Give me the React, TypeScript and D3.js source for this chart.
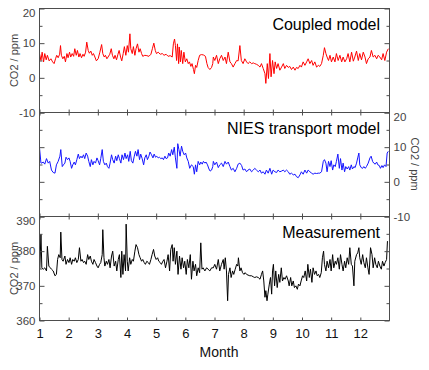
import React, { useRef, useEffect } from 'react';
import * as d3 from 'd3';

// [month, CO2] pairs
const coupledModel: [number, number][] = [
  [1.00, 7.0], [1.05, 5.0], [1.09, 7.4], [1.14, 4.6], [1.18, 7.0], [1.23, 5.2], [1.27, 6.5], [1.33, 4.9], [1.39, 5.5], [1.45, 4.6],
  [1.50, 4.1], [1.55, 5.5], [1.59, 6.5], [1.64, 5.8], [1.69, 6.8], [1.72, 9.3], [1.75, 6.5], [1.80, 5.5], [1.85, 6.2], [1.89, 4.6],
  [1.94, 7.0], [1.98, 5.8], [2.03, 7.4], [2.07, 6.0], [2.12, 7.0], [2.17, 6.2], [2.21, 8.4], [2.26, 6.5], [2.30, 7.9], [2.35, 6.0],
  [2.39, 7.0], [2.44, 5.8], [2.49, 6.8], [2.53, 6.2], [2.58, 7.4], [2.62, 10.3], [2.67, 7.9], [2.71, 7.1], [2.76, 7.7], [2.81, 6.5],
  [2.85, 7.0], [2.90, 6.0], [2.95, 4.9], [3.01, 5.5], [3.07, 7.4], [3.13, 9.6], [3.17, 7.0], [3.22, 6.0], [3.26, 6.5], [3.31, 5.5],
  [3.35, 6.0], [3.41, 6.8], [3.46, 8.4], [3.50, 6.5], [3.55, 5.5], [3.59, 6.5], [3.64, 5.2], [3.69, 6.8], [3.73, 7.9], [3.78, 6.0],
  [3.82, 4.9], [3.87, 7.0], [3.91, 9.0], [3.96, 6.5], [4.01, 9.3], [4.05, 7.4], [4.10, 12.7], [4.13, 8.4], [4.18, 7.0], [4.22, 9.0],
  [4.27, 6.5], [4.31, 8.4], [4.36, 9.8], [4.41, 7.4], [4.45, 8.4], [4.50, 7.0], [4.54, 6.2], [4.61, 6.5], [4.68, 6.4], [4.75, 6.2],
  [4.82, 6.8], [4.87, 8.4], [4.92, 10.0], [4.97, 7.9], [5.01, 7.0], [5.07, 7.4], [5.14, 6.8], [5.21, 7.0], [5.27, 6.5], [5.34, 6.8],
  [5.41, 6.2], [5.48, 6.4], [5.55, 6.0], [5.59, 9.8], [5.63, 11.2], [5.66, 9.3], [5.70, 5.0], [5.73, 9.8], [5.77, 4.1], [5.79, 8.9],
  [5.83, 4.6], [5.86, 7.9], [5.91, 4.1], [5.95, 7.4], [6.00, 4.6], [6.05, 5.5], [6.10, 4.1], [6.14, 4.6], [6.19, 3.3], [6.23, 4.1],
  [6.28, 2.4], [6.31, 1.2], [6.35, 3.6], [6.39, 3.0], [6.44, 5.0], [6.49, 6.5], [6.55, 6.7], [6.62, 6.6], [6.69, 6.2], [6.74, 4.1],
  [6.78, 3.0], [6.84, 2.4], [6.90, 3.0], [6.94, 4.1],
  [6.96, 6.0], [7.01, 5.0], [7.07, 6.5], [7.13, 4.1], [7.18, 5.5], [7.24, 6.5], [7.30, 5.0], [7.36, 6.0], [7.41, 4.1], [7.47, 7.4],
  [7.53, 4.6], [7.58, 4.1], [7.64, 3.1], [7.70, 4.1], [7.76, 5.0], [7.81, 4.9], [7.87, 9.3], [7.92, 5.0], [7.98, 4.1], [8.04, 5.5],
  [8.10, 4.6], [8.15, 4.1], [8.21, 4.6], [8.27, 4.1], [8.33, 4.3], [8.38, 4.1], [8.44, 3.9], [8.50, 3.6], [8.56, 3.1], [8.61, 4.1],
  [8.67, 2.7], [8.73, 1.2], [8.76, -1.6], [8.81, 4.1], [8.85, -0.2], [8.90, 7.0], [8.94, 0.3], [8.99, 5.0], [9.04, 1.2], [9.08, 4.6],
  [9.13, 2.7], [9.18, 4.1], [9.24, 2.2], [9.30, 3.1], [9.36, 4.1], [9.41, 2.7], [9.47, 3.6], [9.53, 3.0], [9.58, 3.3], [9.64, 2.4],
  [9.70, 3.1], [9.76, 2.2], [9.81, 3.0], [9.87, 2.7], [9.93, 3.6], [9.98, 3.1], [10.04, 4.6], [10.10, 3.6], [10.16, 4.6], [10.21, 5.5],
  [10.27, 4.1], [10.33, 5.0], [10.38, 3.6], [10.44, 4.6], [10.50, 3.1], [10.56, 3.6], [10.61, 3.3], [10.67, 4.1], [10.73, 6.5], [10.77, 8.7],
  [10.82, 7.0], [10.86, 6.0], [10.91, 5.0], [10.96, 6.5], [11.01, 4.6], [11.07, 6.0], [11.13, 4.6], [11.18, 7.0], [11.24, 5.0], [11.30, 6.5],
  [11.36, 4.6], [11.41, 6.0], [11.47, 4.6], [11.53, 5.5], [11.58, 7.0], [11.64, 4.6], [11.70, 7.4], [11.76, 4.8], [11.81, 6.0], [11.87, 7.7],
  [11.93, 5.0], [11.98, 7.0], [12.04, 5.2], [12.10, 7.4], [12.16, 6.0], [12.21, 4.1], [12.27, 5.5], [12.33, 6.0], [12.38, 7.9], [12.44, 6.0],
  [12.50, 6.5], [12.56, 5.5], [12.61, 6.5], [12.67, 6.0], [12.73, 5.2], [12.78, 7.0], [12.84, 5.0], [12.90, 7.4], [12.96, 8.4],
];

const niesModel: [number, number][] = [
  [1.00, 9.8], [1.05, 5.4], [1.07, 5.4], [1.13, 5.7], [1.18, 5.1], [1.24, 6.7], [1.30, 5.4], [1.35, 5.9], [1.41, 3.4], [1.47, 2.7],
  [1.53, 2.5], [1.58, 4.9], [1.64, 5.9], [1.70, 7.4], [1.73, 9.3], [1.78, 4.4], [1.82, 4.9], [1.87, 5.4], [1.91, 7.1], [1.96, 6.4],
  [2.01, 6.9], [2.05, 5.9], [2.10, 3.9], [2.14, 4.9], [2.19, 5.7], [2.23, 4.9], [2.28, 6.4], [2.33, 8.0], [2.37, 6.7], [2.42, 7.4],
  [2.46, 6.9], [2.51, 7.8], [2.55, 6.7], [2.60, 8.3], [2.65, 7.4], [2.69, 5.9], [2.74, 4.4], [2.78, 6.4], [2.83, 4.9], [2.87, 5.9],
  [2.92, 5.4], [2.97, 6.9], [3.01, 6.1], [3.06, 4.9], [3.10, 6.7], [3.15, 9.3], [3.19, 5.9], [3.24, 4.9], [3.29, 5.4], [3.33, 4.4],
  [3.38, 3.9], [3.42, 5.4], [3.47, 7.8], [3.51, 6.4], [3.56, 5.4], [3.61, 7.4], [3.65, 6.1], [3.70, 7.8], [3.74, 6.7], [3.79, 5.4],
  [3.83, 7.8], [3.88, 6.4], [3.93, 8.3], [3.97, 6.7], [4.02, 7.8], [4.06, 5.9], [4.11, 8.8], [4.15, 6.1], [4.20, 5.4], [4.25, 7.4],
  [4.29, 8.8], [4.34, 7.4], [4.38, 9.3], [4.43, 6.4], [4.47, 8.0], [4.52, 6.7], [4.57, 4.9], [4.61, 6.9], [4.66, 7.8], [4.70, 6.4],
  [4.75, 7.4], [4.79, 8.6], [4.84, 7.8], [4.89, 6.9], [4.93, 8.0], [4.98, 7.1], [5.02, 7.4], [5.07, 6.9], [5.11, 7.1], [5.16, 6.7],
  [5.21, 6.9], [5.25, 6.4], [5.30, 7.4], [5.34, 6.7], [5.39, 6.9], [5.43, 8.3], [5.48, 7.4], [5.53, 9.3], [5.57, 7.8], [5.62, 10.0],
  [5.66, 6.9], [5.71, 3.9], [5.74, 11.0], [5.78, 9.3], [5.82, 7.4], [5.87, 10.3], [5.91, 8.8], [5.96, 7.8], [6.01, 8.3], [6.05, 6.9],
  [6.10, 5.9], [6.15, 3.9], [6.21, 4.9], [6.27, 4.4], [6.31, 2.2], [6.35, 4.9], [6.39, 2.9], [6.44, 5.9], [6.49, 4.9], [6.53, 5.7],
  [6.58, 5.1], [6.62, 5.9], [6.67, 5.4], [6.71, 5.7], [6.76, 4.9], [6.81, 3.7], [6.85, 3.1], [6.90, 3.4], [6.94, 4.4],
  [6.96, 5.9], [7.01, 4.9], [7.07, 5.7], [7.13, 4.1], [7.18, 4.9], [7.24, 5.4], [7.30, 4.4], [7.36, 5.9], [7.41, 5.1], [7.47, 5.7],
  [7.53, 4.4], [7.58, 3.4], [7.64, 3.9], [7.70, 2.9], [7.76, 3.9], [7.81, 5.1], [7.87, 5.4], [7.93, 4.7], [7.98, 3.4], [8.04, 3.7],
  [8.10, 2.9], [8.15, 3.4], [8.21, 3.7], [8.27, 2.9], [8.33, 3.4], [8.38, 3.9], [8.44, 3.4], [8.50, 2.9], [8.56, 3.4], [8.61, 2.5],
  [8.67, 2.9], [8.73, 2.2], [8.78, 3.4], [8.84, 2.5], [8.90, 3.9], [8.96, 2.2], [9.01, 3.4], [9.07, 2.9], [9.13, 2.7], [9.18, 3.4],
  [9.24, 2.9], [9.30, 3.1], [9.36, 3.4], [9.41, 2.9], [9.47, 3.4], [9.53, 2.9], [9.58, 2.2], [9.64, 2.5], [9.70, 2.0], [9.76, 2.2],
  [9.81, 1.5], [9.87, 1.2], [9.93, 2.0], [9.98, 2.9], [10.04, 2.2], [10.10, 3.4], [10.16, 2.5], [10.21, 3.4], [10.27, 2.9], [10.33, 2.5],
  [10.38, 2.2], [10.44, 2.5], [10.50, 2.4], [10.56, 2.5], [10.61, 2.5], [10.67, 2.9], [10.73, 5.9], [10.77, 6.4], [10.82, 5.4], [10.86, 2.9],
  [10.91, 5.9], [10.96, 4.4], [11.00, 6.1], [11.05, 3.4], [11.09, 4.9], [11.14, 4.4], [11.18, 5.9], [11.23, 8.0], [11.28, 3.9], [11.32, 6.7],
  [11.37, 3.4], [11.41, 5.4], [11.46, 2.9], [11.50, 4.4], [11.55, 3.7], [11.60, 4.4], [11.64, 3.4], [11.69, 4.9], [11.73, 3.7], [11.78, 4.4],
  [11.82, 4.1], [11.87, 5.4], [11.91, 6.9], [11.95, 8.3], [11.98, 4.9], [12.03, 4.1], [12.08, 3.9], [12.12, 4.4], [12.17, 3.9], [12.21, 4.4],
  [12.27, 5.4], [12.33, 6.9], [12.37, 7.4], [12.42, 5.9], [12.46, 5.4], [12.51, 5.1], [12.56, 5.7], [12.60, 4.9], [12.65, 4.7], [12.69, 3.9],
  [12.74, 4.7], [12.78, 4.1], [12.83, 4.9], [12.88, 4.4], [12.92, 8.3], [12.96, 8.8],
];

const measurement: [number, number][] = [
  [1.01, 374.8], [1.05, 384.8], [1.08, 375.2], [1.13, 374.8], [1.18, 375.2], [1.24, 374.3], [1.27, 381.4], [1.32, 375.7], [1.37, 375.2], [1.41, 374.8],
  [1.47, 374.3], [1.53, 372.9], [1.58, 373.3], [1.62, 377.6], [1.66, 379.0], [1.71, 378.1], [1.73, 385.5], [1.77, 377.6], [1.81, 377.1], [1.87, 378.6],
  [1.91, 376.2], [1.96, 377.6], [2.01, 376.7], [2.05, 378.1], [2.10, 376.2], [2.14, 377.6], [2.19, 377.1], [2.23, 378.1], [2.28, 376.7], [2.33, 377.6],
  [2.37, 381.0], [2.42, 377.1], [2.46, 377.6], [2.51, 376.7], [2.55, 377.1], [2.60, 376.2], [2.65, 379.0], [2.69, 377.6], [2.74, 378.6], [2.78, 377.1],
  [2.83, 376.2], [2.87, 377.6], [2.92, 376.7], [2.97, 375.7], [3.01, 375.2], [3.06, 376.2], [3.10, 376.7], [3.15, 379.0], [3.17, 386.2], [3.21, 378.1],
  [3.24, 375.7], [3.29, 377.1], [3.33, 376.2], [3.38, 377.6], [3.42, 375.2], [3.47, 378.6], [3.51, 380.0], [3.56, 375.7], [3.61, 377.1], [3.65, 374.3],
  [3.70, 377.6], [3.74, 379.0], [3.79, 372.4], [3.82, 380.0], [3.86, 373.3], [3.90, 379.0], [3.95, 374.3], [3.97, 387.8], [4.01, 377.1], [4.04, 374.3],
  [4.09, 378.1], [4.13, 376.2], [4.18, 377.6], [4.22, 377.1], [4.27, 380.0], [4.31, 381.9], [4.36, 381.0], [4.41, 379.0], [4.45, 378.1], [4.50, 377.1],
  [4.54, 377.6], [4.59, 376.7], [4.63, 376.2], [4.68, 377.1], [4.73, 376.7], [4.77, 376.2], [4.82, 377.6], [4.86, 379.0], [4.91, 380.5], [4.95, 378.6],
  [5.00, 377.6], [5.05, 378.1], [5.09, 377.1], [5.14, 376.7], [5.18, 376.2], [5.23, 377.1], [5.27, 377.6], [5.32, 375.2], [5.37, 377.1], [5.41, 379.0],
  [5.46, 374.3], [5.50, 380.5], [5.55, 381.9], [5.58, 377.1], [5.62, 381.0], [5.66, 376.2], [5.71, 380.0], [5.75, 373.3], [5.80, 378.6], [5.85, 374.8],
  [5.89, 378.1], [5.94, 375.2], [5.98, 377.1], [6.03, 373.3], [6.07, 377.6], [6.12, 375.2], [6.17, 379.0], [6.21, 371.9], [6.26, 377.1], [6.30, 374.3],
  [6.35, 376.2], [6.39, 372.9], [6.44, 375.2], [6.49, 373.8], [6.53, 382.4], [6.57, 374.8], [6.61, 375.2], [6.67, 374.3], [6.73, 375.2], [6.78, 374.8],
  [6.84, 374.3], [6.90, 375.2],
  [6.96, 375.2], [7.01, 376.2], [7.07, 374.8], [7.13, 377.6], [7.18, 374.3], [7.24, 376.2], [7.30, 377.6], [7.33, 374.8], [7.37, 378.1], [7.41, 374.3],
  [7.45, 365.7], [7.48, 373.3], [7.53, 375.2], [7.57, 372.4], [7.62, 374.3], [7.66, 373.3], [7.71, 374.8], [7.76, 376.2], [7.80, 375.7], [7.82, 378.1],
  [7.87, 374.3], [7.91, 375.2], [7.96, 373.8], [8.01, 373.3], [8.05, 373.8], [8.10, 373.3], [8.15, 373.1], [8.21, 372.9], [8.27, 372.9], [8.33, 372.6],
  [8.38, 372.4], [8.44, 372.6], [8.50, 372.4], [8.56, 371.9], [8.61, 373.3], [8.65, 374.3], [8.69, 371.4], [8.73, 366.7], [8.76, 368.6], [8.80, 365.7],
  [8.83, 367.6], [8.88, 370.5], [8.92, 372.4], [8.96, 367.6], [8.99, 374.3], [9.02, 376.2], [9.06, 370.0], [9.10, 374.3], [9.15, 369.5], [9.20, 373.3],
  [9.24, 371.0], [9.29, 375.2], [9.33, 371.4], [9.38, 372.4], [9.42, 371.9], [9.47, 372.9], [9.53, 371.4], [9.56, 370.0], [9.61, 372.4], [9.65, 370.0],
  [9.70, 371.4], [9.74, 369.5], [9.79, 370.0], [9.84, 369.0], [9.88, 370.5], [9.93, 370.0], [9.97, 371.4], [10.02, 372.9], [10.06, 372.4], [10.11, 374.3],
  [10.16, 371.4], [10.20, 376.2], [10.25, 372.4], [10.29, 374.8], [10.34, 371.0], [10.38, 375.2], [10.43, 373.3], [10.48, 374.3], [10.52, 372.9], [10.57, 373.3],
  [10.61, 372.4], [10.66, 373.8], [10.70, 378.1], [10.74, 380.0], [10.77, 376.2], [10.82, 374.3], [10.86, 377.1], [10.91, 375.2], [10.96, 377.6], [11.00, 374.3],
  [11.05, 379.0], [11.09, 375.2], [11.14, 377.1], [11.18, 376.2], [11.23, 378.1], [11.28, 374.8], [11.32, 379.0], [11.37, 376.2], [11.41, 374.3], [11.46, 377.1],
  [11.50, 375.2], [11.55, 378.1], [11.60, 376.2], [11.64, 381.0], [11.69, 376.2], [11.73, 375.7], [11.78, 370.0], [11.81, 377.1], [11.87, 379.0], [11.91, 379.5],
  [11.95, 381.0], [11.98, 378.1], [12.03, 376.2], [12.08, 379.0], [12.12, 376.7], [12.17, 375.2], [12.21, 378.1], [12.26, 375.2], [12.30, 373.3], [12.35, 381.0],
  [12.40, 379.0], [12.44, 375.2], [12.49, 378.1], [12.53, 376.2], [12.58, 375.2], [12.62, 377.1], [12.67, 375.7], [12.72, 374.8], [12.76, 377.1], [12.81, 375.7],
  [12.85, 376.7], [12.90, 377.6], [12.93, 382.9],
];

const monthTicks = [1, 2, 3, 4, 5, 6, 7, 8, 9, 10, 11, 12];
const modelTicks = [-10, 0, 10, 20];
const modelMinorTicks = [-5, 5, 15];
const measTicks = [360, 370, 380, 390];
const measMinorTicks = [365, 375, 385];

const FONT = '"Liberation Sans", Arial, sans-serif';

const App = () => {
  const svgRef = useRef<SVGSVGElement>(null);

  useEffect(() => {
    const svg = d3.select(svgRef.current);
    svg.selectAll('*').remove();

    const left = 39.5;
    const right = 389.5;
    const panelH = 104;
    const axisColor = '#4d4d4d';

    const x = d3.scaleLinear().domain([1, 13]).range([left, right]);

    const panels = [
      { data: coupledModel, ticks: modelTicks, minor: modelMinorTicks, top: 8.5, color: '#ff0000', title: 'Coupled model', titleY: 30, labels: 'left', topTicks: false },
      { data: niesModel, ticks: modelTicks, minor: modelMinorTicks, top: 112.5, color: '#1414ff', title: 'NIES transport model', titleY: 134, labels: 'right', topTicks: true },
      { data: measurement, ticks: measTicks, minor: measMinorTicks, top: 216.5, color: '#000000', title: 'Measurement', titleY: 237.5, labels: 'left', topTicks: true },
    ];

    const styleAxis = (g, size = '11.5px', fill = '#444') => {
      g.select('.domain').remove();
      g.selectAll('line').attr('stroke', axisColor);
      g.selectAll('text').attr('fill', fill).attr('font-family', FONT).attr('font-size', size);
    };

    panels.forEach(p => {
      const [lo, hi] = d3.extent(p.ticks) as [number, number];
      const y = d3.scaleLinear().domain([lo, hi]).range([p.top + panelH, p.top]);
      const g = svg.append('g');

      // series line
      g.append('path')
        .datum(p.data)
        .attr('fill', 'none')
        .attr('stroke', p.color)
        .attr('stroke-width', 1)
        .attr('stroke-linejoin', 'round')
        .attr('d', d3.line<[number, number]>().x(d => x(d[0])).y(d => y(d[1])));

      // frame
      g.append('rect')
        .attr('x', left).attr('y', p.top)
        .attr('width', right - left).attr('height', panelH)
        .attr('fill', 'none').attr('stroke', axisColor);

      const fmt = (d) => String(d);
      const none = () => '';

      // left y axis
      const la = g.append('g').attr('transform', `translate(${left},0)`)
        .call(d3.axisLeft(y).tickValues(p.ticks).tickSize(-5).tickPadding(4).tickFormat(p.labels === 'left' ? fmt : none));
      styleAxis(la);
      la.selectAll('text').filter(d => d === hi).attr('y', 4);
      styleAxis(g.append('g').attr('transform', `translate(${left},0)`)
        .call(d3.axisLeft(y).tickValues(p.minor).tickSize(-3).tickFormat(none)));

      // right y axis
      const ra = g.append('g').attr('transform', `translate(${right},0)`)
        .call(d3.axisRight(y).tickValues(p.ticks).tickSize(-5).tickPadding(4).tickFormat(p.labels === 'right' ? fmt : none));
      styleAxis(ra);
      ra.selectAll('text').filter(d => d === hi).attr('y', 4);
      styleAxis(g.append('g').attr('transform', `translate(${right},0)`)
        .call(d3.axisRight(y).tickValues(p.minor).tickSize(-3).tickFormat(none)));

      // month ticks on panel edges
      if (p.topTicks) {
        styleAxis(g.append('g').attr('transform', `translate(0,${p.top})`)
          .call(d3.axisTop(x).tickValues(monthTicks).tickSize(-3).tickFormat(none)));
      }
      styleAxis(g.append('g').attr('transform', `translate(0,${p.top + panelH})`)
        .call(d3.axisBottom(x).tickValues(monthTicks).tickSize(-3).tickFormat(none)));

      // panel title
      g.append('text')
        .attr('x', 380).attr('y', p.titleY)
        .attr('text-anchor', 'end')
        .attr('font-family', FONT).attr('font-size', '16px').attr('fill', '#000')
        .text(p.title);

      // unit label
      const mid = p.top + panelH / 2;
      g.append('text')
        .attr('transform', p.labels === 'left' ? `translate(17.5,${mid}) rotate(-90)` : `translate(411,${mid - 0.5}) rotate(90)`)
        .attr('text-anchor', 'middle')
        .attr('font-family', FONT).attr('font-size', '11px').attr('fill', '#444')
        .text('CO2 / ppm');
    });

    // month labels on the bottom
    const bottom = panels[2].top + panelH;
    styleAxis(svg.append('g').attr('transform', `translate(0,${bottom})`)
      .call(d3.axisBottom(x).tickValues(monthTicks).tickSize(0).tickPadding(8).tickFormat(d => String(d))), '13px', '#111');

    svg.append('text')
      .attr('x', 219).attr('y', 357)
      .attr('text-anchor', 'middle')
      .attr('font-family', FONT).attr('font-size', '14px').attr('fill', '#111')
      .text('Month');
  }, []);

  return (
    <svg
      ref={svgRef}
      width={429}
      height={370}
      style={{ position: 'absolute', left: 0, top: 0, background: '#fff' }}
    />
  );
};

export default App;
